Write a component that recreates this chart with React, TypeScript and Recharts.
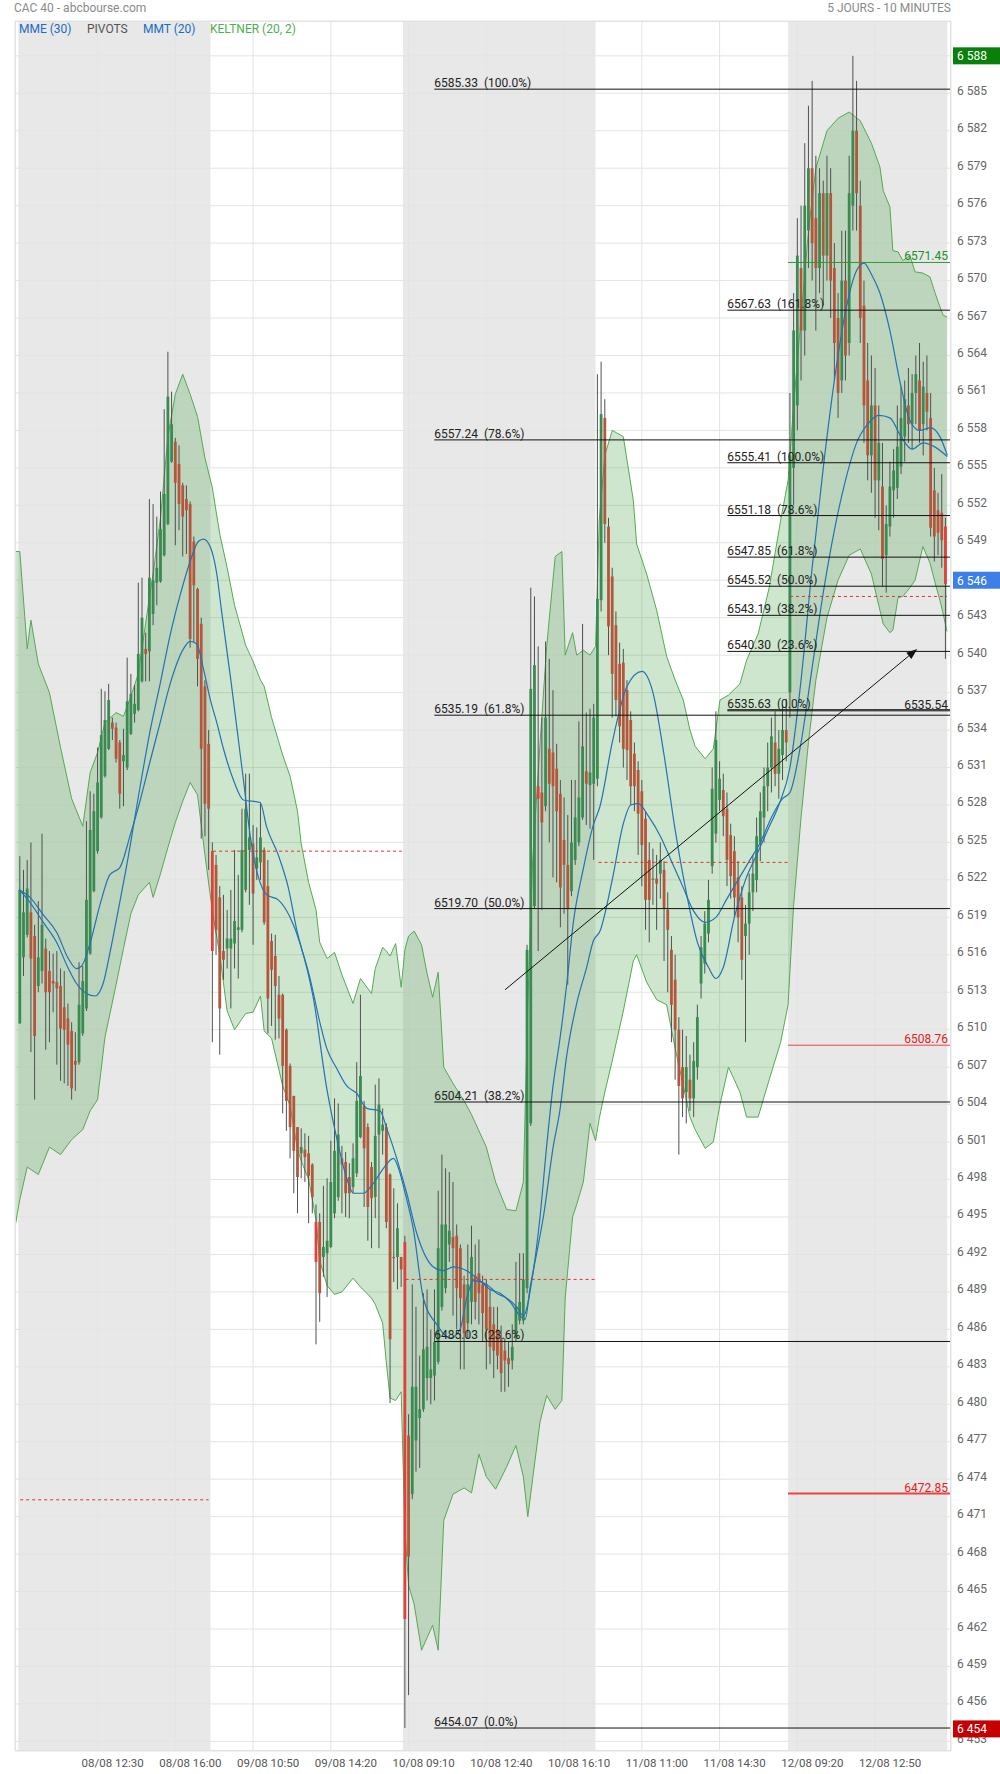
import React from "react";
import {
  ComposedChart,
  Bar,
  Line,
  Area,
  XAxis,
  YAxis,
  CartesianGrid,
  ReferenceArea,
  ReferenceLine,
} from "recharts";

// 10-minute candles [open, high, low, close], one array per session
const day1 = [
  [6510.5, 6523.9, 6510.5, 6521.2], [6515.8, 6522.8, 6514.3, 6519.4], [6517.6, 6523.6, 6517.4, 6521.3],
  [6519.4, 6525.0, 6508.2, 6515.7], [6517.5, 6518.4, 6504.4, 6509.5], [6513.5, 6520.3, 6513.0, 6515.8],
  [6514.7, 6525.7, 6513.7, 6518.4], [6516.5, 6517.3, 6508.4, 6513.0], [6514.7, 6516.3, 6509.0, 6513.0],
  [6513.9, 6516.1, 6511.4, 6513.7], [6513.8, 6516.3, 6507.2, 6513.3], [6513.5, 6514.9, 6505.9, 6510.1],
  [6511.8, 6514.7, 6505.7, 6510.0], [6510.9, 6512.1, 6505.5, 6508.8], [6509.9, 6510.6, 6504.4, 6505.3],
  [6507.5, 6509.8, 6505.1, 6507.2], [6507.4, 6515.4, 6507.2, 6512.0], [6509.7, 6515.1, 6509.5, 6513.9],
  [6511.7, 6526.7, 6511.5, 6520.4], [6516.1, 6529.1, 6516.0, 6526.0], [6521.1, 6528.9, 6521.0, 6527.5],
  [6524.3, 6532.6, 6524.1, 6529.8], [6527.0, 6537.3, 6526.9, 6533.6], [6530.3, 6537.1, 6530.2, 6534.8],
  [6532.5, 6537.7, 6532.4, 6536.4], [6534.6, 6535.0, 6533.2, 6534.1], [6534.2, 6534.6, 6531.4, 6531.7],
  [6533.0, 6533.2, 6527.7, 6528.9], [6531.5, 6534.1, 6527.9, 6532.0], [6531.0, 6539.8, 6530.8, 6536.3],
  [6533.7, 6538.5, 6533.6, 6536.9], [6535.3, 6537.6, 6534.6, 6536.1], [6535.6, 6545.8, 6535.5, 6540.1],
  [6537.9, 6546.2, 6537.8, 6543.0], [6540.5, 6541.8, 6537.9, 6540.1], [6540.3, 6552.5, 6537.9, 6546.2],
  [6543.3, 6552.1, 6542.4, 6546.0], [6545.8, 6551.1, 6544.0, 6547.0], [6545.9, 6553.1, 6545.8, 6550.1],
  [6548.0, 6559.7, 6547.9, 6552.9], [6550.5, 6564.3, 6550.4, 6560.7], [6555.5, 6561.1, 6555.4, 6558.5],
  [6557.1, 6557.4, 6548.8, 6553.8], [6555.3, 6556.8, 6550.0, 6552.1], [6553.6, 6553.8, 6547.9, 6551.1],
  [6552.5, 6553.6, 6548.1, 6551.6], [6552.1, 6552.3, 6540.6, 6541.3], [6549.1, 6549.5, 6541.0, 6545.6],
  [6545.3, 6545.4, 6537.5, 6539.7], [6542.5, 6543.0, 6525.3, 6532.5], [6537.5, 6538.0, 6525.5, 6528.1],
  [6532.9, 6534.0, 6522.8, 6527.7],
];
const day2 = [
  [6524.3, 6525.0, 6509.0, 6516.3], [6523.2, 6524.0, 6516.0, 6518.0], [6520.6, 6521.5, 6508.0, 6511.7],
  [6516.3, 6520.8, 6514.0, 6515.6], [6516.5, 6519.6, 6514.9, 6517.3], [6516.5, 6521.2, 6511.7, 6517.3],
  [6516.9, 6524.4, 6514.9, 6518.7], [6518.0, 6522.4, 6514.1, 6518.2], [6518.0, 6527.7, 6517.8, 6524.4],
  [6521.2, 6530.5, 6521.0, 6527.7], [6524.4, 6530.5, 6520.0, 6525.4], [6524.9, 6526.4, 6516.8, 6520.9],
  [6522.9, 6526.2, 6522.0, 6523.8], [6523.4, 6528.2, 6522.0, 6525.4], [6524.4, 6524.6, 6518.4, 6518.6],
  [6521.5, 6523.6, 6509.7, 6512.5], [6517.1, 6517.7, 6510.3, 6514.8], [6515.9, 6517.6, 6509.2, 6513.5],
  [6512.8, 6514.3, 6509.3, 6510.9], [6512.8, 6512.9, 6503.3, 6507.1], [6510.0, 6510.1, 6501.9, 6504.3],
  [6507.1, 6507.3, 6499.7, 6502.2], [6504.7, 6504.7, 6496.9, 6500.3], [6502.2, 6502.2, 6495.3, 6498.2],
  [6500.1, 6502.1, 6498.1, 6500.6], [6500.4, 6501.7, 6497.8, 6499.8], [6500.1, 6501.5, 6494.5, 6498.3],
  [6499.2, 6499.3, 6495.3, 6496.6], [6494.6, 6496.0, 6484.8, 6491.4], [6494.6, 6495.3, 6486.6, 6488.9],
  [6491.8, 6497.5, 6490.2, 6492.6], [6492.1, 6498.1, 6488.6, 6493.1], [6492.6, 6501.1, 6492.5, 6497.8],
  [6495.3, 6504.5, 6494.9, 6500.3], [6496.6, 6504.1, 6496.3, 6501.6], [6499.7, 6500.7, 6495.3, 6499.2],
  [6499.4, 6500.2, 6495.0, 6496.9], [6498.2, 6499.3, 6494.9, 6496.9], [6497.4, 6500.9, 6496.9, 6499.7],
  [6498.5, 6507.4, 6498.2, 6504.3], [6501.4, 6512.8, 6501.3, 6506.3], [6503.9, 6504.3, 6495.8, 6500.5],
  [6502.2, 6502.5, 6493.1, 6495.8], [6499.0, 6499.4, 6492.5, 6496.5], [6496.6, 6505.6, 6494.9, 6501.5],
  [6501.6, 6506.1, 6492.5, 6504.0], [6501.9, 6503.7, 6500.0, 6502.4], [6502.2, 6502.5, 6494.1, 6494.6],
  [6498.4, 6498.5, 6480.1, 6485.2], [6491.8, 6497.3, 6489.8, 6491.7], [6491.8, 6496.1, 6489.2, 6494.1],
  [6491.8, 6491.8, 6489.4, 6490.8],
];
const day3 = [
  [6493.0, 6493.5, 6454.07, 6462.8], [6477.5, 6479.2, 6456.7, 6467.8], [6472.8, 6489.6, 6472.4, 6481.4],
  [6477.1, 6487.8, 6474.6, 6481.4], [6478.9, 6483.9, 6474.9, 6479.6], [6479.6, 6488.9, 6479.4, 6484.4],
  [6482.1, 6489.2, 6480.3, 6484.6], [6482.1, 6486.0, 6480.0, 6482.8], [6482.3, 6489.2, 6480.3, 6485.0],
  [6483.4, 6497.1, 6483.2, 6492.5], [6487.8, 6500.0, 6487.5, 6494.4], [6489.3, 6498.9, 6488.9, 6494.4],
  [6492.8, 6498.6, 6491.4, 6493.9], [6493.4, 6497.8, 6487.1, 6492.5], [6493.5, 6494.4, 6486.0, 6489.3],
  [6492.5, 6492.8, 6482.8, 6488.5], [6489.6, 6490.3, 6482.8, 6485.7], [6486.5, 6492.8, 6485.3, 6489.6],
  [6488.2, 6494.3, 6486.4, 6491.8], [6490.3, 6492.8, 6486.8, 6488.2], [6490.5, 6493.2, 6486.4, 6488.9],
  [6489.6, 6490.3, 6485.0, 6487.3], [6489.6, 6490.0, 6482.8, 6486.0], [6487.8, 6489.2, 6483.2, 6484.6],
  [6486.4, 6487.8, 6482.1, 6484.3], [6486.0, 6487.8, 6482.8, 6483.9], [6485.3, 6486.3, 6481.0, 6482.5],
  [6484.3, 6485.3, 6481.0, 6483.5], [6483.7, 6485.0, 6481.4, 6483.2], [6483.5, 6486.4, 6482.8, 6484.6],
  [6485.3, 6491.4, 6485.0, 6487.8], [6486.7, 6492.1, 6486.4, 6488.2], [6486.7, 6492.1, 6486.4, 6490.0],
  [6489.3, 6516.8, 6488.9, 6516.4], [6502.5, 6545.4, 6502.3, 6537.3], [6519.9, 6544.7, 6519.7, 6539.2],
  [6529.5, 6540.7, 6516.3, 6528.5], [6529.0, 6535.0, 6519.6, 6526.6], [6527.9, 6541.1, 6527.5, 6535.0],
  [6532.5, 6539.7, 6525.0, 6529.7], [6532.2, 6537.2, 6522.2, 6529.5], [6530.9, 6532.9, 6521.8, 6527.5],
  [6528.9, 6530.0, 6518.2, 6521.4], [6525.2, 6528.6, 6519.3, 6523.2], [6523.2, 6527.2, 6513.6, 6519.7],
  [6521.1, 6530.0, 6520.7, 6525.0], [6523.6, 6530.0, 6523.2, 6527.0], [6525.0, 6534.7, 6524.7, 6528.6],
  [6527.0, 6542.5, 6526.8, 6532.7], [6530.7, 6535.4, 6526.4, 6529.7], [6529.6, 6535.7, 6526.1, 6530.6],
  [6529.7, 6536.1, 6523.6, 6535.0],
];
const day4 = [
  [6530.1, 6562.5, 6529.5, 6544.5], [6544.4, 6563.5, 6543.5, 6559.3], [6559.0, 6560.5, 6549.0, 6550.5],
  [6550.3, 6551.0, 6540.0, 6542.3], [6546.3, 6547.0, 6535.0, 6538.5], [6542.4, 6543.5, 6535.1, 6536.4],
  [6539.3, 6541.0, 6533.0, 6534.3], [6539.4, 6540.5, 6531.0, 6532.5], [6537.2, 6538.0, 6530.0, 6532.4],
  [6534.8, 6535.5, 6528.0, 6529.5], [6532.1, 6533.0, 6527.5, 6529.5], [6530.8, 6531.5, 6524.0, 6527.3],
  [6529.1, 6530.0, 6521.5, 6524.8], [6526.9, 6527.5, 6518.0, 6520.4], [6523.6, 6525.0, 6517.0, 6520.4],
  [6522.0, 6524.5, 6520.0, 6522.1], [6522.1, 6524.0, 6518.0, 6521.7], [6522.5, 6525.0, 6520.5, 6523.6],
  [6522.8, 6523.5, 6515.5, 6519.7], [6519.6, 6521.0, 6513.0, 6518.0], [6516.4, 6517.5, 6509.0, 6512.0],
  [6514.0, 6516.0, 6506.0, 6510.0], [6510.0, 6511.0, 6500.0, 6505.5], [6507.0, 6510.0, 6503.0, 6504.5],
  [6505.0, 6509.5, 6502.5, 6507.0], [6506.0, 6508.0, 6503.5, 6504.5], [6504.5, 6509.0, 6503.0, 6507.5],
  [6507.0, 6512.0, 6506.0, 6511.0], [6513.7, 6517.5, 6512.5, 6516.6], [6515.3, 6519.5, 6514.5, 6518.5],
  [6517.7, 6522.0, 6517.0, 6520.4], [6523.1, 6531.0, 6522.5, 6529.3], [6525.7, 6535.5, 6525.0, 6533.2],
  [6528.4, 6531.5, 6527.5, 6530.1], [6529.2, 6530.5, 6525.5, 6527.1], [6527.7, 6529.0, 6521.5, 6523.6],
  [6525.6, 6526.5, 6520.5, 6522.3], [6524.3, 6525.5, 6519.0, 6520.6], [6522.2, 6523.5, 6517.0, 6519.0],
  [6520.6, 6521.5, 6514.0, 6515.6], [6517.5, 6520.0, 6509.0, 6518.5], [6518.5, 6522.5, 6516.0, 6521.0],
  [6521.0, 6524.0, 6519.5, 6522.5], [6522.0, 6527.0, 6521.0, 6525.5], [6525.0, 6529.0, 6523.5, 6527.5],
  [6527.0, 6531.0, 6525.0, 6529.5], [6529.5, 6533.0, 6527.5, 6531.0], [6531.0, 6535.0, 6529.0, 6533.5],
  [6533.0, 6535.5, 6529.5, 6530.5], [6530.5, 6534.0, 6528.5, 6532.5], [6532.0, 6536.0, 6530.0, 6534.0],
  [6534.0, 6536.5, 6531.5, 6533.0],
];
const day5 = [
  [6537.0, 6561.0, 6535.0, 6556.0], [6555.0, 6569.0, 6552.0, 6566.0], [6560.0, 6575.0, 6558.0, 6572.0],
  [6571.0, 6576.0, 6562.0, 6566.0], [6566.0, 6581.0, 6564.0, 6576.0], [6574.0, 6584.0, 6571.0, 6579.0],
  [6579.0, 6586.0, 6570.0, 6573.0], [6575.0, 6580.0, 6566.0, 6571.0], [6571.0, 6579.0, 6569.0, 6577.0],
  [6577.0, 6578.0, 6568.0, 6572.0], [6572.0, 6580.0, 6570.0, 6577.0], [6577.0, 6579.0, 6567.0, 6570.0],
  [6571.0, 6573.0, 6562.0, 6565.0], [6567.0, 6569.0, 6559.0, 6561.0], [6562.0, 6574.0, 6561.0, 6570.0],
  [6570.0, 6574.0, 6562.0, 6564.0], [6565.0, 6580.0, 6564.0, 6577.0], [6576.0, 6588.0, 6574.0, 6582.0],
  [6582.0, 6586.0, 6574.0, 6577.0], [6576.0, 6578.0, 6565.0, 6567.0], [6568.0, 6570.0, 6557.0, 6560.0],
  [6562.0, 6565.0, 6554.0, 6556.0], [6556.0, 6564.0, 6553.0, 6560.0], [6560.0, 6563.0, 6551.0, 6554.0],
  [6554.0, 6560.0, 6550.0, 6557.0], [6553.5, 6557.0, 6545.5, 6547.7], [6548.0, 6552.0, 6545.0, 6550.5],
  [6550.3, 6555.5, 6549.5, 6553.5], [6553.2, 6556.5, 6551.0, 6554.8], [6553.4, 6560.0, 6552.5, 6556.7],
  [6555.1, 6561.5, 6554.5, 6559.0], [6557.5, 6562.0, 6555.5, 6560.5], [6560.0, 6563.0, 6557.0, 6558.5],
  [6558.5, 6562.5, 6556.5, 6561.0], [6561.0, 6564.0, 6558.5, 6562.5], [6562.0, 6565.0, 6557.0, 6558.0],
  [6558.5, 6563.5, 6556.0, 6561.5], [6561.0, 6564.0, 6558.0, 6559.5], [6559.0, 6561.0, 6549.5, 6550.2],
  [6553.2, 6555.0, 6547.5, 6549.5], [6551.6, 6553.0, 6548.0, 6549.8], [6551.4, 6554.5, 6547.0, 6549.2],
  [6550.3, 6551.0, 6539.7, 6545.7],
];
const sessions = [day1, day2, day3, day4, day5];
const BARS_PER_DAY = 52;

// Keltner (20, 2) envelope, read at bar positions
const kcIdx = [
  -1.3, 0, 2, 3, 5, 8, 11, 14, 17, 19, 21, 23, 26, 28, 30, 32, 35, 36, 38, 40, 42, 44, 46, 48, 50, 52, 54, 56, 58, 61,
  63, 65, 66, 68, 71, 73, 75, 76, 78, 80, 81, 83, 85, 87, 90, 92, 95, 96, 98, 99, 100, 101.5, 103, 104, 105, 106.5,
  108.5, 110, 111.5, 113, 114.5, 117, 120, 122, 124, 126, 128.5, 131.5, 134, 136, 137.2, 138.5, 140.5, 142.3, 144.6,
  146.4, 147.3, 149.3, 150.4, 152.2, 154, 155.5, 156.5, 158, 160, 163, 165.7, 166.6, 169.3, 172, 174.7, 177, 179.2,
  181, 182.4, 185.1, 187.3, 189.1, 191.4, 194.5, 196.3, 199.4, 202.4, 205.5, 207.5, 209, 211, 213, 215, 218, 221, 224,
  227, 230, 232.3, 233.2, 235, 235.8, 237.2, 238.5, 240.4, 241.8, 243.9, 245.8, 247.2, 248.5, 249.4, 250.4,
];
const kcUpper = [
  6548.3, 6548.3, 6540.5, 6542.8, 6539.3, 6537.0, 6532.6, 6528.5, 6526.3, 6530.6, 6532.2, 6534.6, 6535.4, 6535.1,
  6536.7, 6538.5, 6544.6, 6546.5, 6551.0, 6557.5, 6560.9, 6562.5, 6560.9, 6559.1, 6555.8, 6553.4, 6549.7, 6547.0,
  6544.0, 6540.8, 6539.5, 6538.0, 6537.5, 6535.0, 6532.0, 6530.3, 6527.5, 6524.9, 6521.8, 6519.6, 6517.0, 6515.7,
  6516.2, 6514.4, 6512.1, 6514.1, 6512.9, 6514.9, 6516.6, 6516.3, 6515.9, 6516.9, 6513.4, 6516.4, 6517.5, 6517.9,
  6516.8, 6514.5, 6512.6, 6514.6, 6507.0, 6505.7, 6504.3, 6503.2, 6501.9, 6500.6, 6497.8, 6495.6, 6495.5, 6497.8,
  6512.0, 6523.5, 6532.9, 6540.7, 6547.9, 6548.3, 6540.0, 6541.8, 6540.0, 6540.4, 6540.0, 6540.7, 6550.8, 6556.0,
  6558.0, 6557.5, 6552.4, 6548.9, 6546.5, 6543.6, 6539.9, 6538.0, 6536.4, 6534.0, 6532.7, 6531.7, 6532.5, 6536.4,
  6536.8, 6537.7, 6539.6, 6541.7, 6545.4, 6550.8, 6554.0, 6560.0, 6567.0, 6574.0, 6579.0, 6582.0, 6583.0, 6583.5,
  6582.8, 6581.0, 6579.1, 6577.2, 6575.9, 6572.4, 6572.3, 6571.6, 6572.0, 6570.7, 6570.6, 6570.3, 6569.0, 6567.9,
  6567.2, 6567.1,
];
const kcLower = [
  6494.2, 6496.4, 6499.0, 6498.8, 6498.4, 6500.6, 6500.0, 6501.2, 6502.0, 6503.5, 6504.4, 6509.4, 6513.6, 6516.5,
  6519.3, 6520.8, 6521.8, 6520.6, 6522.5, 6524.6, 6526.6, 6528.3, 6529.8, 6528.8, 6524.0, 6519.5, 6516.0, 6511.5,
  6510.0, 6511.3, 6511.4, 6512.7, 6509.9, 6509.3, 6505.5, 6503.9, 6500.4, 6499.5, 6498.0, 6494.8, 6491.5, 6489.5,
  6488.8, 6489.0, 6490.1, 6489.4, 6488.5, 6488.0, 6486.5, 6483.3, 6480.5, 6480.3, 6481.0, 6470.0, 6465.5, 6464.0,
  6460.3, 6461.3, 6462.3, 6460.3, 6470.7, 6472.8, 6473.3, 6472.9, 6476.0, 6474.2, 6473.2, 6475.0, 6476.7, 6474.2,
  6471.0, 6474.0, 6478.6, 6480.7, 6479.6, 6480.3, 6488.5, 6495.0, 6496.0, 6497.8, 6502.5, 6501.1, 6502.9, 6505.0,
  6507.5, 6511.5, 6515.5, 6516.0, 6513.8, 6512.4, 6512.0, 6508.5, 6505.5, 6503.0, 6502.0, 6500.5, 6501.0, 6504.0,
  6507.0, 6505.0, 6503.0, 6503.0, 6506.0, 6509.0, 6512.0, 6520.0, 6527.0, 6533.0, 6538.0, 6543.0, 6546.0, 6548.0,
  6548.5, 6546.5, 6543.6, 6542.5, 6541.8, 6542.0, 6544.6, 6544.7, 6545.4, 6546.0, 6548.7, 6547.4, 6545.8, 6544.4,
  6543.3, 6541.9,
];

// MMT (20), read at bar positions
const mmtIdx = [
  -0.14, 2.74, 6.34, 9.94, 13.1, 15.3, 18, 20.3, 22.5, 24.3, 26.6, 28.9, 32.45, 35.1, 37.9, 40.6, 43.3, 46, 48.2,
  49.6, 51.4, 53.2, 54.5, 57, 60.4, 62.2, 66.7, 69.8, 73, 75.7, 79.3, 82.9, 85.6, 88.3, 90.1, 92.8, 95.5, 98.2, 100.9,
  102.7, 104, 106.3, 109, 112.6, 116.2, 118.9, 120.7, 122.5, 126.1, 128.8, 131.5, 134.2, 136, 138.7, 140.5, 142.3,
  144.1, 145.9, 147.7, 149.5, 152.2, 154.9, 156.7, 160, 164, 168, 171, 174, 177, 180, 183, 186, 188, 190, 193, 196,
  199, 202, 205, 208, 211, 214, 217, 220, 223, 226, 228, 230, 232.3, 235, 238, 240.4, 243, 246, 248.5, 250.5,
];
const mmtVal = [
  6521.2, 6520.2, 6518.6, 6517.0, 6514.9, 6513.7, 6512.9, 6512.7, 6513.7, 6516.1, 6519.6, 6523.2, 6529.4, 6533.8,
  6537.7, 6541.6, 6544.8, 6547.5, 6549.1, 6549.3, 6548.7, 6546.5, 6543.5, 6538.0, 6530.0, 6525.6, 6520.8, 6520.4,
  6519.0, 6516.9, 6512.5, 6505.3, 6501.3, 6498.1, 6496.9, 6496.9, 6497.7, 6498.9, 6499.7, 6498.5, 6497.0, 6494.0,
  6488.5, 6486.4, 6485.3, 6486.0, 6488.5, 6489.9, 6489.6, 6488.9, 6488.5, 6487.8, 6487.1, 6490.7, 6495.0, 6500.7,
  6505.7, 6509.3, 6513.6, 6518.6, 6522.9, 6526.4, 6527.9, 6533.0, 6537.5, 6538.7, 6537.0, 6532.0, 6526.0, 6521.0,
  6517.0, 6515.0, 6514.1, 6515.0, 6519.0, 6522.0, 6524.0, 6526.0, 6528.0, 6531.0, 6538.0, 6547.0, 6555.0, 6562.0,
  6567.5, 6570.8, 6571.4, 6570.5, 6569.0, 6566.0, 6561.5, 6558.8, 6558.0, 6558.2, 6557.5, 6556.0,
];

// MME (30), read at bar positions
const mmeIdx = [
  -0.14, 2.74, 6.34, 9.94, 13.1, 15.3, 16.7, 18.95, 21.65, 24.3, 27.05, 29.75, 32.45, 35.1, 37.9, 40.6, 44.2, 46,
  47.8, 49.6, 51.4, 53.2, 55, 57.7, 60.4, 64.9, 66.7, 69.8, 72.5, 74.8, 78.4, 81.1, 82.9, 85.6, 88.3, 91, 93.7, 97.3,
  99.1, 101.8, 104.5, 107.2, 111.7, 114.4, 117.1, 120.7, 124.3, 127, 129.7, 132.4, 135.1, 136.5, 137.8, 139.6, 141.4,
  144.1, 145.9, 147.7, 150.4, 153.1, 154.9, 156.7, 160, 163, 165, 167, 170, 173, 176, 179, 182, 185.1, 188, 191, 194,
  197, 200, 203, 206, 208, 211, 214, 217, 220, 223, 226, 229, 232, 235, 238, 241, 244, 247, 250.5,
];
const mmeVal = [
  6521.2, 6520.6, 6519.2, 6517.8, 6515.7, 6514.9, 6515.1, 6516.9, 6520.0, 6522.4, 6523.0, 6525.5, 6528.3, 6531.4,
  6534.6, 6537.7, 6540.5, 6541.1, 6540.9, 6538.9, 6536.5, 6534.6, 6532.5, 6530.0, 6528.4, 6528.2, 6526.2, 6524.0,
  6521.4, 6518.0, 6514.1, 6510.5, 6508.5, 6506.9, 6505.5, 6504.9, 6503.7, 6503.5, 6502.1, 6499.7, 6496.9, 6493.7,
  6491.0, 6490.7, 6491.0, 6490.7, 6489.9, 6489.2, 6488.9, 6488.2, 6487.1, 6486.8, 6489.3, 6492.1, 6495.0, 6500.7,
  6503.6, 6507.9, 6512.1, 6515.0, 6517.1, 6517.9, 6522.0, 6526.5, 6528.0, 6528.1, 6527.0, 6525.5, 6523.5, 6521.5,
  6519.5, 6518.6, 6519.0, 6520.5, 6522.0, 6523.5, 6525.0, 6527.0, 6528.5, 6529.0, 6533.0, 6539.0, 6545.0, 6550.0,
  6554.0, 6557.0, 6558.5, 6559.2, 6559.0, 6557.5, 6556.5, 6557.0, 6556.7, 6555.9,
];

const xTickPos = [21, 42, 63, 84, 105, 126, 147, 168, 189, 210, 231];
const xTickLabels = [
  "08/08 12:30", "08/08 16:00", "09/08 10:50", "09/08 14:20", "10/08 09:10", "10/08 12:40",
  "10/08 16:10", "11/08 11:00", "11/08 14:30", "12/08 09:20", "12/08 12:50",
];
const yTicks = [
  6453, 6456, 6459, 6462, 6465, 6468, 6471, 6474, 6477, 6480, 6483, 6486, 6489, 6492, 6495, 6498, 6501, 6504,
  6507, 6510, 6513, 6516, 6519, 6522, 6525, 6528, 6531, 6534, 6537, 6540, 6543, 6546, 6549, 6552, 6555, 6558,
  6561, 6564, 6567, 6570, 6573, 6576, 6579, 6582, 6585, 6588,
];

// shaded sessions (bar index ranges)
const shadedDays = [[-0.4, 51.5], [103.5, 155.5], [207.5, 250.5]];

// Fibonacci retracements
const fib1Start = 111.95;
const fib1Levels = [6585.33, 6557.24, 6535.19, 6519.7, 6504.21, 6485.03, 6454.07];
const fib1Pct = ["100.0%", "78.6%", "61.8%", "50.0%", "38.2%", "23.6%", "0.0%"];
const fib2Start = 191.1;
const fib2Levels = [6567.63, 6555.41, 6551.18, 6547.85, 6545.52, 6543.19, 6540.3, 6535.63];
const fib2Pct = ["161.8%", "100.0%", "78.6%", "61.8%", "50.0%", "38.2%", "23.6%", "0.0%"];
const userLevel = 6535.54;

// daily pivots
const pivotFrom = [0.1, 52.2, 104.2, 156.3, 208.0];
const pivotTo = [51.0, 103.2, 155.2, 207.5, 250.4];
const pivotVal = [6472.35, 6524.3, 6490.0, 6523.4, 6544.7];
const r1 = 6571.45;
const s1 = 6508.76;
const s2 = 6472.85;

// trend line (bar index, price)
const trendFrom = [131.05, 6513.2];
const trendTo = [242.4, 6540.5];

const lastHigh = 6588;
const lastClose = 6546;
const lastLow = 6454;

const X_MIN = -1.3;
const X_MAX = 251.5;

// bars drawn in the brighter red
const brightBars = [52, 80, 104, 140, 250];

const candles = sessions.flatMap((day, d) =>
  day.map(([o, h, l, c], k) => ({ g: d * BARS_PER_DAY + k, o, h, l, c, range: [l, h] }))
);
const kcData = kcIdx.map((g, i) => ({ g, band: [kcLower[i], kcUpper[i]] }));
const mmtData = mmtIdx.map((g, i) => ({ g, v: mmtVal[i] }));
const mmeData = mmeIdx.map((g, i) => ({ g, v: mmeVal[i] }));

const fmt = (n: number) => String(n).replace(/\B(?=(\d{3})+(?!\d))/g, " ");

const Candle = (props: any) => {
  const { x, y, width, height } = props;
  const src = props.payload && props.payload.o != null ? props.payload : props;
  if (x == null || src.o == null) return null;
  const { o, h, l, c, g } = src;
  const top = Math.min(y, y + height);
  const span = Math.abs(height);
  const ppu = h > l ? span / (h - l) : 0;
  const py = (v: number) => top + (h - v) * ppu;
  const up = c >= o;
  const cx = x + (width || 0) / 2;
  const bw = 2.8;
  const bTop = py(Math.max(o, c));
  const bBot = py(Math.min(o, c));
  const fill = up ? "#3b8a52" : brightBars.includes(g) ? "#e2403a" : "#b3563c";
  return (
    <g>
      <line x1={cx} x2={cx} y1={top} y2={top + span} stroke="#505050" strokeWidth={1} />
      <rect x={cx - bw / 2} y={bTop} width={bw} height={Math.max(1, bBot - bTop)} fill={fill} />
    </g>
  );
};

const XTick = (props: any) => {
  const { x, y, payload } = props;
  const i = xTickPos.indexOf(payload.value);
  return (
    <text x={x + 15} y={y + 16} textAnchor="middle" fontSize={11.5} fill="#555" fontFamily="Roboto">
      {xTickLabels[i]}
    </text>
  );
};

const YTick = (props: any) => {
  const { x, y, payload } = props;
  return (
    <text x={x + 6} y={y + 1.5} textAnchor="start" fontSize={12} fill="#666" fontFamily="Roboto">
      {fmt(payload.value)}
    </text>
  );
};

const level =
  (text: string, color: string, textColor: string, align: "start" | "end", sw = 1, dash?: string) =>
  (p: any) => {
    const left = Math.min(p.x1, p.x2);
    const right = Math.max(p.x1, p.x2);
    return (
      <g>
        <line x1={p.x1} y1={p.y1} x2={p.x2} y2={p.y2} stroke={color} strokeWidth={sw} strokeDasharray={dash} />
        {text ? (
          <text
            x={align === "start" ? left : right - 3}
            y={p.y1 - 2}
            textAnchor={align}
            fontSize={12}
            fill={textColor}
            fontFamily="Roboto"
            style={{ whiteSpace: "pre" }}
          >
            {text}
          </text>
        ) : null}
      </g>
    );
  };

const tag = (text: string, bg: string) => (p: any) => {
  const right = Math.max(p.x1, p.x2);
  return (
    <g>
      <rect x={right + 2} y={p.y1 - 8.5} width={48} height={17} fill={bg} />
      <text x={right + 6} y={p.y1 + 4.5} fontSize={12} fill="#fff" fontFamily="Roboto">
        {text}
      </text>
    </g>
  );
};

const arrow = (p: any) => {
  const { x1, y1, x2, y2 } = p;
  const a = Math.atan2(y2 - y1, x2 - x1);
  const L = 11;
  const W = 4;
  const bx = x2 - L * Math.cos(a);
  const by = y2 - L * Math.sin(a);
  const pts = `${x2},${y2} ${bx - W * Math.sin(a)},${by + W * Math.cos(a)} ${bx + W * Math.sin(a)},${by - W * Math.cos(a)}`;
  return (
    <g>
      <line x1={x1} y1={y1} x2={bx} y2={by} stroke="#111" strokeWidth={1} />
      <polygon points={pts} fill="#111" />
    </g>
  );
};

const legendItems = [
  { t: "MME (30)", c: "#1a6cc4", x: 19 },
  { t: "PIVOTS", c: "#555", x: 87 },
  { t: "MMT (20)", c: "#1a6cc4", x: 143 },
  { t: "KELTNER (20, 2)", c: "#4caf50", x: 210 },
];

export default function App() {
  return (
    <div
      style={{
        position: "absolute",
        left: 0,
        top: 0,
        width: 1000,
        height: 1774,
        background: "#fff",
        fontFamily: "Roboto, sans-serif",
        overflow: "hidden",
      }}
    >
      <ComposedChart
        width={1000}
        height={1774}
        data={candles}
        margin={{ top: 21, right: 0, bottom: 0, left: 15 }}
      >
        {shadedDays.map(([a, b], i) => (
          <ReferenceArea
            key={"d" + i}
            x1={a}
            x2={b}
            fill="#d9d9d9"
            fillOpacity={0.6}
            stroke="none"
            ifOverflow="hidden"
            zIndex={-200}
          />
        ))}
        <CartesianGrid stroke="#dfe6df" />
        <XAxis
          dataKey="g"
          type="number"
          domain={[X_MIN, X_MAX]}
          allowDataOverflow
          ticks={xTickPos}
          tick={<XTick />}
          tickLine={false}
          axisLine={false}
          tickSize={0}
          tickMargin={0}
          height={23}
          interval={0}
        />
        <YAxis
          orientation="right"
          type="number"
          domain={[6452.23, 6590.79]}
          allowDataOverflow
          ticks={yTicks}
          tick={<YTick />}
          tickLine={false}
          axisLine={false}
          tickSize={0}
          tickMargin={0}
          width={49}
          interval={0}
        />
        <Area
          data={kcData}
          dataKey="band"
          type="linear"
          stroke="#55a955"
          strokeWidth={1}
          fill="#3d9a3d"
          fillOpacity={0.25}
          isAnimationActive={false}
          dot={false}
          activeDot={false}
        />
        <Bar dataKey="range" barSize={3} shape={<Candle />} isAnimationActive={false} />
        <Line data={mmeData} dataKey="v" type="monotone" stroke="#2472b2" strokeWidth={1.2} dot={false} activeDot={false} isAnimationActive={false} />
        <Line data={mmtData} dataKey="v" type="monotone" stroke="#2472b2" strokeWidth={1.2} dot={false} activeDot={false} isAnimationActive={false} />

        {pivotVal.map((v, i) => (
          <ReferenceLine
            key={"p" + i}
            segment={[{ x: pivotFrom[i], y: v }, { x: pivotTo[i], y: v }]}
            shape={level("", "#e0342c", "#e0342c", "start", 1, "3 3")}
          />
        ))}
        <ReferenceLine segment={[{ x: 207.5, y: r1 }, { x: X_MAX, y: r1 }]} shape={level(r1.toFixed(2), "#2e9b2e", "#1f8f1f", "end")} />
        <ReferenceLine segment={[{ x: 207.5, y: s1 }, { x: X_MAX, y: s1 }]} shape={level(s1.toFixed(2), "#f04040", "#e52020", "end")} />
        <ReferenceLine segment={[{ x: 207.5, y: s2 }, { x: X_MAX, y: s2 }]} shape={level(s2.toFixed(2), "#f04040", "#e52020", "end", 2)} />

        {fib1Levels.map((v, i) => (
          <ReferenceLine
            key={"f1" + i}
            segment={[{ x: fib1Start, y: v }, { x: X_MAX, y: v }]}
            shape={level(`${v.toFixed(2)}\u00a0\u00a0(${fib1Pct[i]})`, "#111", "#222", "start")}
          />
        ))}
        {fib2Levels.map((v, i) => (
          <ReferenceLine
            key={"f2" + i}
            segment={[{ x: fib2Start, y: v }, { x: X_MAX, y: v }]}
            shape={level(`${v.toFixed(2)}\u00a0\u00a0(${fib2Pct[i]})`, "#111", "#222", "start")}
          />
        ))}
        <ReferenceLine segment={[{ x: fib2Start, y: userLevel }, { x: X_MAX, y: userLevel }]} shape={level(userLevel.toFixed(2), "#111", "#222", "end")} />
        <ReferenceLine
          segment={[{ x: trendFrom[0], y: trendFrom[1] }, { x: trendTo[0], y: trendTo[1] }]}
          shape={arrow}
        />

        <ReferenceLine y={lastHigh} ifOverflow="visible" shape={tag(fmt(lastHigh), "#0a800a")} zIndex={3000} />
        <ReferenceLine y={lastClose} ifOverflow="visible" shape={tag(fmt(lastClose), "#3d7fe6")} zIndex={3000} />
        <ReferenceLine y={lastLow} ifOverflow="visible" shape={tag(fmt(lastLow), "#c40000")} zIndex={3000} />
      </ComposedChart>

      <div
        style={{
          position: "absolute",
          left: 15,
          top: 21,
          width: 936,
          height: 1730,
          border: "1px solid #e2e2e2",
          boxSizing: "border-box",
          pointerEvents: "none",
        }}
      />
      <div style={{ position: "absolute", left: 14, top: 1, fontSize: 12, lineHeight: "14px", color: "#8a8a8a" }}>
        CAC 40 - abcbourse.com
      </div>
      <div style={{ position: "absolute", right: 49, top: 1, fontSize: 12, lineHeight: "14px", color: "#8a8a8a" }}>
        5 JOURS - 10 MINUTES
      </div>
      {legendItems.map((it) => (
        <div
          key={it.t}
          style={{ position: "absolute", left: it.x, top: 22, fontSize: 12, lineHeight: "14px", color: it.c }}
        >
          {it.t}
        </div>
      ))}
    </div>
  );
}
